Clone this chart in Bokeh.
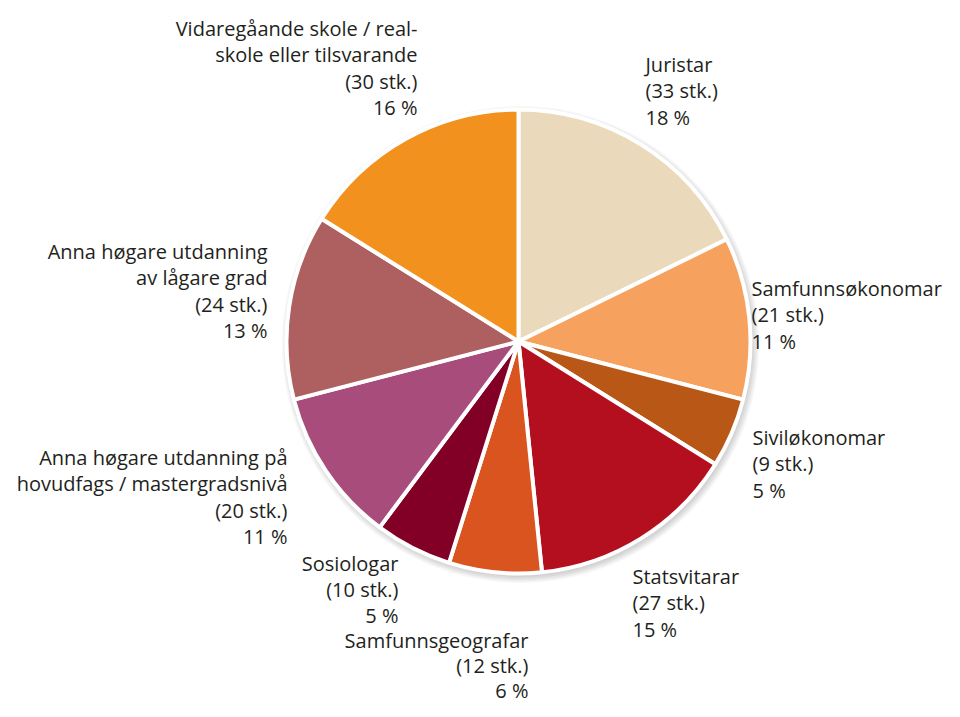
import math
from bokeh.plotting import figure
from bokeh.models import ColumnDataSource, Range1d
from bokeh.core.properties import value
from bokeh.embed import file_html
from bokeh.resources import INLINE

# ---- data ----
categories = ["Juristar", "Samfunnsøkonomar", "Siviløkonomar", "Statsvitarar",
              "Samfunnsgeografar", "Sosiologar",
              "Anna høgare utdanning på\nhovudfags / mastergradsnivå",
              "Anna høgare utdanning\nav lågare grad",
              "Vidaregåande skole / real-\nskole eller tilsvarande"]
counts = [33, 21, 9, 27, 12, 10, 20, 24, 30]
percents = [18, 11, 5, 15, 6, 5, 11, 13, 16]
colors = ["#EBD9BC", "#F6A15E", "#B95716", "#B30F1F", "#D9541E",
          "#820026", "#A84C7C", "#AE5F5F", "#F3911F"]

# ---- layout (canvas pixels, y measured from top) ----
W, H = 944, 709
cx, cy, r = 518, 341, 232
# label anchor (x, first-line centre y from top, line spacing) and alignment
label_pos = [(645, 64, 26.3, "left"), (751, 288, 26.3, "left"),
             (752, 437, 26.3, "left"), (632, 576, 26.3, "left"),
             (528, 640, 25.0, "right"), (398, 563, 26.0, "right"),
             (287, 457, 26.3, "right"), (267, 251, 26.3, "right"),
             (417, 28, 26.3, "right")]

total = sum(counts)
starts, ends = [], []
a = math.pi / 2
for c in counts:
    starts.append(a)
    a -= 2 * math.pi * c / total
    ends.append(a)

p = figure(width=W, height=H, output_backend="svg", toolbar_location=None,
           x_range=Range1d(0, W), y_range=Range1d(0, H), min_border=0)
p.axis.visible = False
p.grid.visible = False
p.outline_line_color = None

# soft shadow
for i in range(5):
    p.circle(x=cx + 2, y=H - cy - 3, radius=r + 0.5 + i * 1.5, fill_color="black",
             fill_alpha=0.035, line_color=None)

src = ColumnDataSource(dict(start=ends, end=starts, color=colors))
p.wedge(x=cx, y=H - cy, radius=r, start_angle="start", end_angle="end",
        fill_color="color", line_color="white", line_width=4, source=src)

for cat, n, pc, (lx, ly, lh, al) in zip(categories, counts, percents, label_pos):
    lines = cat.split("\n") + [f"({n} stk.)", f"{pc} %"]
    ys = [H - (ly + i * lh) for i in range(len(lines))]
    p.text(x=[lx] * len(lines), y=ys, text=lines, text_align=al,
           text_baseline="middle", text_font=value("Open Sans"),
           text_font_size="20px", text_color="#231F20")

open("out.html", "w").write(file_html(p, INLINE))
